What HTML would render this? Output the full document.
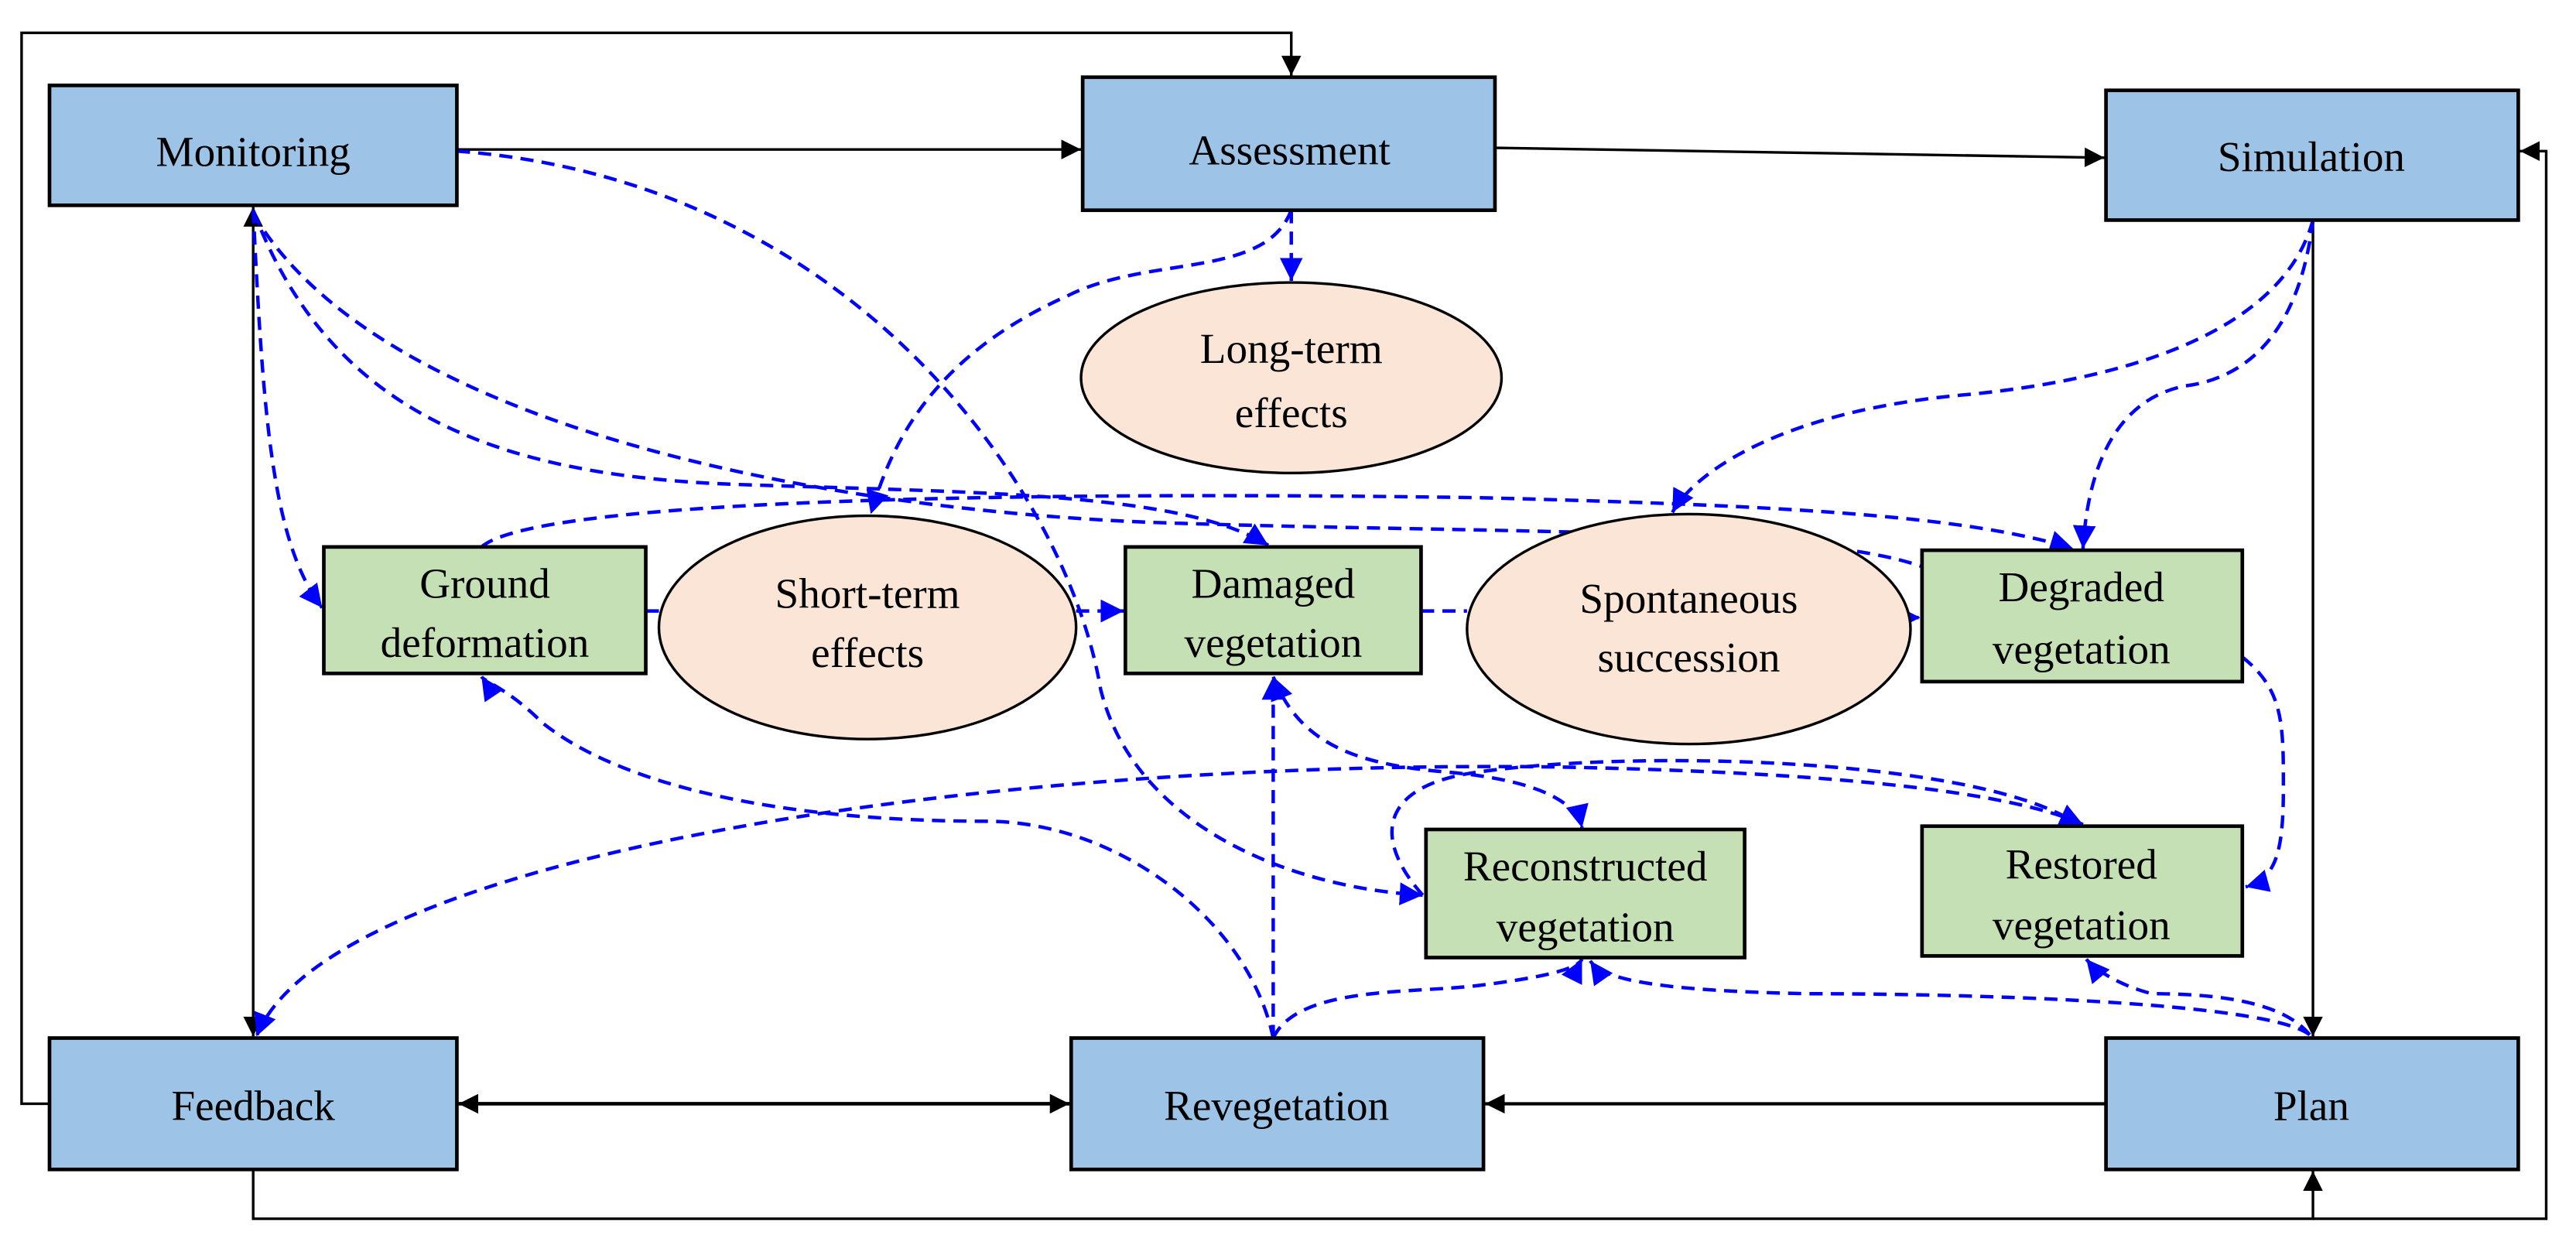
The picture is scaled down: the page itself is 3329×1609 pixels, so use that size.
<!DOCTYPE html>
<html><head><meta charset="utf-8"><style>html,body{margin:0;padding:0;background:#fff}svg{display:block}</style></head>
<body>
<svg width="3329" height="1609" viewBox="0 0 1568 758" xmlns="http://www.w3.org/2000/svg">
<defs>
<marker id="k" viewBox="0 0 10 10" refX="10" refY="5" markerWidth="12" markerHeight="12" markerUnits="userSpaceOnUse" orient="auto-start-reverse"><path d="M0,0 L10,5 L0,10 z" fill="#000"/></marker>
<marker id="b" viewBox="0 0 10 10" refX="10" refY="5" markerWidth="14" markerHeight="14" markerUnits="userSpaceOnUse" orient="auto-start-reverse"><path d="M0,0 L10,5 L0,10 z" fill="#00f"/></marker>
</defs>
<g fill="none" stroke="#000" stroke-width="1.6">
<path d="M30,672 H13 V20 H786 V46" marker-end="url(#k)"/>
<path d="M278,91 H658" marker-end="url(#k)"/>
<path d="M910,90 L1281,96" marker-end="url(#k)"/>
<path d="M154,712 V742 H1408 V713" marker-end="url(#k)"/>
<path d="M1408,742 H1550 V92 H1534" marker-end="url(#k)"/>
<path d="M1408,134 V631" marker-end="url(#k)"/>
<path d="M154,126 V631" marker-start="url(#k)" marker-end="url(#k)"/>
<path d="M279,672 H651" stroke-width="2.2" marker-start="url(#k)" marker-end="url(#k)"/>
<path d="M1282,672 H904" stroke-width="2" marker-end="url(#k)"/>
</g>
<g fill="none" stroke="#00f" stroke-width="2.1" stroke-dasharray="8,5">
<path d="M278,92 C520,110 650,300 670,420 C690,500 780,540 866,545" marker-end="url(#b)"/>
<path d="M154,128 C160,250 165,330 196,370" marker-end="url(#b)"/>
<path d="M154,128 C200,250 300,290 450,295 C600,300 720,300 772,332" marker-end="url(#b)"/>
<path d="M154,130 C230,260 500,310 700,318 C900,325 1100,320 1170,345"/>
<path d="M293,333 C330,300 700,300 900,303 C1100,308 1200,315 1262,334" marker-end="url(#b)"/>
<path d="M786,128 V171" marker-end="url(#b)"/>
<path d="M786,128 C770,170 700,155 650,180 C560,220 540,280 530,313" marker-end="url(#b)"/>
<path d="M393,372 H401"/>
<path d="M655,372 H684" marker-end="url(#b)"/>
<path d="M865,372 H893"/>
<path d="M1160,376 H1169" marker-end="url(#b)"/>
<path d="M1408,134 C1390,200 1300,230 1200,240 C1080,250 1030,290 1018,312" marker-end="url(#b)"/>
<path d="M1408,134 C1400,200 1370,230 1330,235 C1280,245 1270,300 1268,334" marker-end="url(#b)"/>
<path d="M1365,400 C1390,420 1390,440 1390,480 C1390,520 1385,535 1367,540" marker-end="url(#b)"/>
<path d="M775,412 C790,450 820,465 880,470 C940,475 960,490 963,504" marker-start="url(#b)" marker-end="url(#b)"/>
<path d="M775,632 V412" marker-end="url(#b)"/>
<path d="M775,632 C760,560 680,500 600,500 C480,500 380,480 330,440 C310,420 295,415 293,412" marker-end="url(#b)"/>
<path d="M775,632 C790,600 860,605 900,600 C940,595 960,590 963,584" marker-end="url(#b)"/>
<path d="M1268,502 C1220,480 1100,470 950,467 C600,462 200,520 156,631" marker-start="url(#b)" marker-end="url(#b)"/>
<path d="M866,545 C835,510 840,478 900,470 C1000,456 1200,462 1262,500"/>
<path d="M1406,630 C1380,610 1200,605 1100,605 C1000,603 975,595 968,585" marker-end="url(#b)"/>
<path d="M1406,630 C1390,610 1350,605 1310,605 C1290,600 1275,590 1270,584" marker-end="url(#b)"/>
</g>
<g stroke="#000" stroke-width="2.2">
<rect x="30" y="52" width="248" height="73" fill="#9dc3e6"/>
<rect x="659" y="47" width="251" height="81" fill="#9dc3e6"/>
<rect x="1282" y="55" width="251" height="79" fill="#9dc3e6"/>
<rect x="30" y="632" width="248" height="80" fill="#9dc3e6"/>
<rect x="652" y="632" width="251" height="80" fill="#9dc3e6"/>
<rect x="1282" y="632" width="251" height="80" fill="#9dc3e6"/>
<rect x="197" y="333" width="196" height="77" fill="#c5e0b4"/>
<rect x="685" y="333" width="180" height="77" fill="#c5e0b4"/>
<rect x="1170" y="335" width="195" height="80" fill="#c5e0b4"/>
<rect x="868" y="505" width="194" height="78" fill="#c5e0b4"/>
<rect x="1170" y="503" width="195" height="79" fill="#c5e0b4"/>
</g>
<g stroke="#000" stroke-width="1.6" fill="#fbe5d6">
<ellipse cx="786" cy="230" rx="128" ry="58"/>
<ellipse cx="528" cy="382" rx="127" ry="68"/>
<ellipse cx="1028" cy="383" rx="135" ry="70"/>
</g>
<g font-family="Liberation Serif, serif" font-size="26" text-anchor="middle" fill="#000">
<text x="154" y="101">Monitoring</text>
<text x="785" y="100">Assessment</text>
<text x="1407" y="104">Simulation</text>
<text x="154" y="682">Feedback</text>
<text x="777" y="682">Revegetation</text>
<text x="1407" y="682">Plan</text>
<text x="295" y="364">Ground</text><text x="295" y="400">deformation</text>
<text x="775" y="364">Damaged</text><text x="775" y="400">vegetation</text>
<text x="1267" y="366">Degraded</text><text x="1267" y="404">vegetation</text>
<text x="965" y="536">Reconstructed</text><text x="965" y="573">vegetation</text>
<text x="1267" y="535">Restored</text><text x="1267" y="572">vegetation</text>
<text x="786" y="221">Long-term</text><text x="786" y="260">effects</text>
<text x="528" y="370">Short-term</text><text x="528" y="406">effects</text>
<text x="1028" y="373">Spontaneous</text><text x="1028" y="409">succession</text>
</g>
</svg>
</body></html>
